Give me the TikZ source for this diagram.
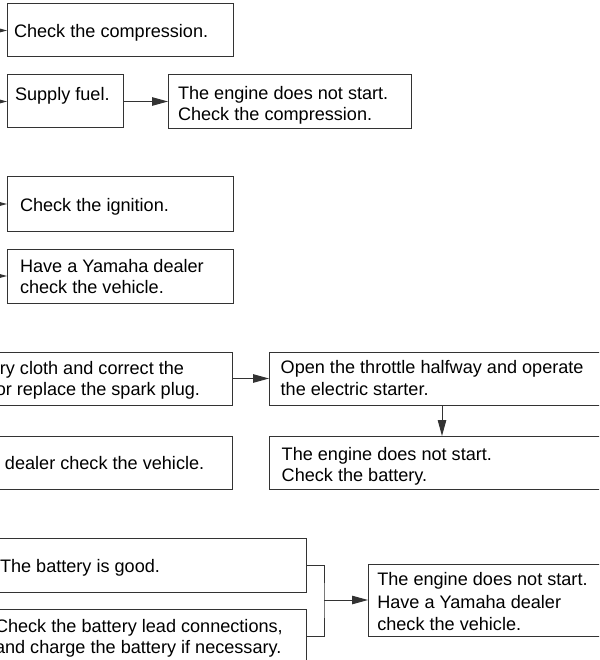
\documentclass[tikz,border=0pt]{standalone}
\usepackage{fontspec}
\setmainfont{Liberation Sans}
\usetikzlibrary{arrows.meta}
\definecolor{lncol}{gray}{0.2}
\tikzset{
  bx/.style 2 args={draw=lncol, line width=1pt, minimum width=#1, minimum height=#2, anchor=north west, inner sep=0pt, outer sep=0pt},
  tx/.style={anchor=base west, inner sep=0pt, outer sep=0pt, font=\fontsize{18.1}{22}\selectfont, text=black},
  ln/.style={draw=lncol, line width=1pt},
  arr/.style={ln, -{Triangle[length=16pt,width=8.5pt]}}
}
\begin{document}
\begin{tikzpicture}[x=1pt,y=-1pt]
\useasboundingbox (0,0) rectangle (599,660);
\clip (0,0) rectangle (599,660);
% boxes
\node[bx={226pt}{53pt}] (b1) at (7,4) {};
\node[bx={116pt}{53pt}] (b2) at (7,75) {};
\node[bx={243pt}{54pt}] (b3) at (168,75) {};
\node[bx={226pt}{54pt}] (b4) at (7,177) {};
\node[bx={226pt}{54pt}] (b5) at (7,249) {};
\node[bx={252pt}{53pt}] (b6) at (-20,352) {};
\node[bx={252pt}{53pt}] (b7) at (-20,436) {};
\node[bx={346pt}{53pt}] (b8) at (269,352) {};
\node[bx={346pt}{53pt}] (b9) at (269,436) {};
\node[bx={326pt}{54pt}] (b10) at (-20,538) {};
\node[bx={326pt}{54pt}] (b11) at (-20,609) {};
\node[bx={250pt}{72pt}] (b12) at (368,564) {};
% texts
\node[tx] (t1) at (14,37.5) {Check the compression.};
\node[tx] (t2) at (15,101) {Supply fuel.};
\node[tx] (t3a) at (178,100) {The engine does not start.};
\node[tx] (t3b) at (178,121) {Check the compression.};
\node[tx] (t4) at (20,211.5) {Check the ignition.};
\node[tx] (t5a) at (20,272.3) {Have a Yamaha dealer};
\node[tx] (t5b) at (20,293.5) {check the vehicle.};
\node[tx, anchor=base east] (t6a) at (184,374) {ry cloth and correct the};
\node[tx, anchor=base east] (t6b) at (200,395.7) {or replace the spark plug.};
\node[tx] (t7) at (5,469) {dealer check the vehicle.};
\node[tx] (t8a) at (280.7,373.5) {Open the throttle halfway and operate};
\node[tx] (t8b) at (280.7,395) {the electric starter.};
\node[tx] (t9a) at (281.7,460) {The engine does not start.};
\node[tx] (t9b) at (281.7,481.7) {Check the battery.};
\node[tx] (t10) at (0,572.3) {The battery is good.};
\node[tx] (t11a) at (-5,632.3) {Check the battery lead connections,};
\node[tx] (t11b) at (-5,653.5) {and charge the battery if necessary.};
\node[tx] (t12a) at (377.3,585.7) {The engine does not start.};
\node[tx] (t12b) at (377.3,608) {Have a Yamaha dealer};
\node[tx] (t12c) at (377.3,630) {check the vehicle.};
% connectors
\coordinate (i1) at (-30,30.5);
\coordinate (i2) at (-30,101.5);
\coordinate (i4) at (-30,204);
\coordinate (i5) at (-30,276);
\draw[arr] (i1) -- (b1.west);
\draw[arr] (i2) -- (b2.west);
\draw[arr] (i4) -- (b4.west);
\draw[arr] (i5) -- (b5.west);
\draw[arr] (b2.east) -- (b2.east -| b3.west);
\draw[arr] (b6.east) -- (b6.east -| b8.west);
\draw[arr] (b8.south) -- (b9.north);
\coordinate (j) at (324,600);
\draw[ln] (b10.east) -| (j) |- (b11.east);
\draw[arr] (j) -- (b12.west);
\end{tikzpicture}
\end{document}
